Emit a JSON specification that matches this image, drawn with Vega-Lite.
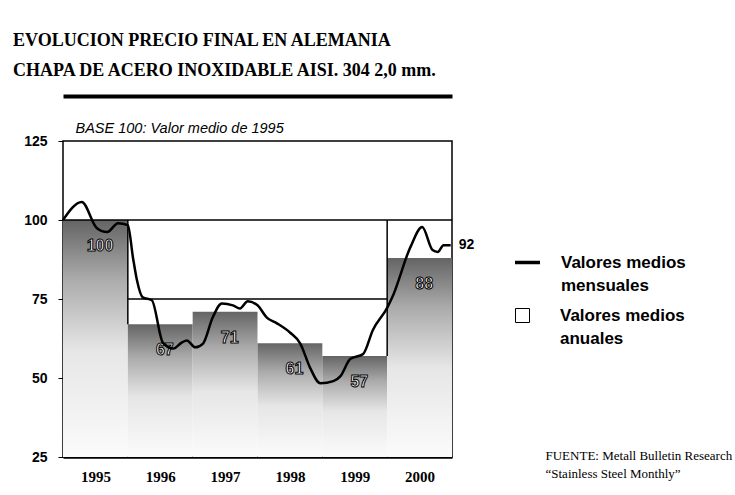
{
  "$schema": "https://vega.github.io/schema/vega-lite/v6.json",
  "width": 389,
  "height": 316,
  "autosize": {"type": "none"},
  "padding": {"left": 63, "top": 141, "right": 283, "bottom": 38},
  "background": "white",
  "config": {
    "view": {"stroke": "black", "strokeWidth": 1.5},
    "font": "Liberation Sans"
  },
  "title": {
    "text": ["EVOLUCION PRECIO FINAL EN ALEMANIA", "CHAPA DE ACERO INOXIDABLE AISI. 304 2,0 mm."],
    "anchor": "start",
    "frame": "group",
    "dx": -50,
    "offset": 16,
    "font": "Liberation Serif",
    "fontSize": 18,
    "fontWeight": "bold",
    "lineHeight": 30,
    "color": "black"
  },
  "datasets": {
    "bars": [
      {"year": 1995, "end": 1996, "v": 100},
      {"year": 1996, "end": 1997, "v": 67},
      {"year": 1997, "end": 1998, "v": 71},
      {"year": 1998, "end": 1999, "v": 61},
      {"year": 1999, "end": 2000, "v": 57},
      {"year": 2000, "end": 2001, "v": 88}
    ],
    "frame": [
      {"x": 1995, "x2": 2001, "y": 100, "y2": 100},
      {"x": 1996, "x2": 2000, "y": 75, "y2": 75},
      {"x": 1996, "x2": 1996, "y": 100, "y2": 67},
      {"x": 2000, "x2": 2000, "y": 100, "y2": 57}
    ],
    "monthly": [
      {"t": 1995.0, "v": 100},
      {"t": 1995.29, "v": 105.7},
      {"t": 1995.52, "v": 97.5},
      {"t": 1995.68, "v": 96.2},
      {"t": 1995.85, "v": 99},
      {"t": 1996.0, "v": 98.4},
      {"t": 1996.08, "v": 88},
      {"t": 1996.14, "v": 81},
      {"t": 1996.23, "v": 75.5},
      {"t": 1996.37, "v": 74.6},
      {"t": 1996.54, "v": 61.2},
      {"t": 1996.7, "v": 59.3},
      {"t": 1996.83, "v": 61.2},
      {"t": 1996.91, "v": 61.9},
      {"t": 1997.04, "v": 59.7},
      {"t": 1997.16, "v": 60.9},
      {"t": 1997.31, "v": 69.2},
      {"t": 1997.45, "v": 73.6},
      {"t": 1997.62, "v": 73},
      {"t": 1997.73, "v": 72},
      {"t": 1997.85, "v": 74.3},
      {"t": 1998.0, "v": 73},
      {"t": 1998.14, "v": 69.2},
      {"t": 1998.3, "v": 67.3},
      {"t": 1998.5, "v": 64.4},
      {"t": 1998.66, "v": 60.9},
      {"t": 1998.81, "v": 53.3},
      {"t": 1998.97, "v": 48.3},
      {"t": 1999.17, "v": 49},
      {"t": 1999.28, "v": 50.6},
      {"t": 1999.43, "v": 56},
      {"t": 1999.63, "v": 57.6},
      {"t": 1999.78, "v": 65.2},
      {"t": 2000.0, "v": 72.2},
      {"t": 2000.08, "v": 75.6},
      {"t": 2000.36, "v": 91.5},
      {"t": 2000.54, "v": 97.8},
      {"t": 2000.7, "v": 90.5},
      {"t": 2000.78, "v": 89.9},
      {"t": 2000.87, "v": 92},
      {"t": 2000.98, "v": 92}
    ],
    "endlabel": [{"t": 2000.98, "v": 92, "label": "92"}]
  },
  "layer": [
    {
      "data": {"name": "bars"},
      "mark": {
        "type": "bar",
        "stroke": null,
        "fill": {"gradient": "linear", "x1": 0, "y1": 0, "x2": 0, "y2": 1, "stops": [{"offset": 0, "color": "#646464"}, {"offset": 0.25, "color": "#ababab"}, {"offset": 0.55, "color": "#e6e6e6"}, {"offset": 1, "color": "#fbfbfb"}]}
      },
      "encoding": {
        "x": {
          "field": "year", "type": "quantitative",
          "scale": {"domain": [1995, 2001], "nice": false, "zero": false},
          "axis": {
            "orient": "bottom",
            "values": [1995.5, 1996.5, 1997.5, 1998.5, 1999.5, 2000.5],
            "labelExpr": "floor(datum.value)",
            "ticks": false,
            "grid": false,
            "domainColor": "black",
            "domainWidth": 2.5,
            "labelFont": "Liberation Serif",
            "labelFontSize": 15,
            "labelFontWeight": "bold",
            "labelColor": "black",
            "labelPadding": 12,
            "title": ["FUENTE: Metall Bulletin Research", "“Stainless Steel Monthly”"],
            "titleX": 482,
            "titleY": -2,
            "titleAlign": "left",
            "titleBaseline": "middle",
            "titleAngle": 0,
            "titleFont": "Liberation Serif",
            "titleFontSize": 13,
            "titleFontWeight": "normal",
            "titleLineHeight": 18,
            "titleColor": "black"
          }
        },
        "x2": {"field": "end"},
        "y": {
          "field": "v", "type": "quantitative",
          "scale": {"domain": [25, 125], "nice": false, "zero": false},
          "axis": {
            "values": [25, 50, 75, 100, 125],
            "grid": false,
            "domain": false,
            "tickColor": "black",
            "tickSize": 5,
            "labelPadding": 11,
            "labelFont": "Liberation Sans",
            "labelFontSize": 14,
            "labelFontWeight": "bold",
            "labelColor": "black",
            "title": "BASE 100: Valor medio de 1995",
            "titleAngle": 0,
            "titleX": 12,
            "titleY": -13,
            "titleAlign": "left",
            "titleBaseline": "middle",
            "titleFont": "Liberation Sans",
            "titleFontSize": 14.5,
            "titleFontStyle": "italic",
            "titleFontWeight": "normal",
            "titleColor": "black"
          }
        },
        "y2": {"datum": 25}
      }
    },
    {
      "data": {"name": "frame"},
      "mark": {"type": "rule", "color": "black", "strokeWidth": 1.5},
      "encoding": {
        "x": {
          "field": "x", "type": "quantitative",
          "axis": {"orient": "top", "labels": false, "ticks": false, "grid": false, "domainColor": "black", "domainWidth": 4, "offset": 45, "title": null}
        },
        "x2": {"field": "x2"},
        "y": {"field": "y", "type": "quantitative"},
        "y2": {"field": "y2"}
      }
    },
    {
      "data": {"name": "bars"},
      "mark": {"type": "text", "fontSize": 16, "fontWeight": "bold", "font": "Liberation Sans", "stroke": "black", "strokeWidth": 1, "align": "center", "baseline": "middle", "dx": 37, "dy": 26},
      "encoding": {
        "x": {"field": "year", "type": "quantitative", "axis": null},
        "y": {"field": "v", "type": "quantitative"},
        "text": {"field": "v", "type": "quantitative"},
        "fill": {
          "datum": "Valores medios|anuales",
          "scale": {"range": ["white"]},
          "legend": {
            "orient": "none",
            "legendX": 451,
            "legendY": 166,
            "title": null,
            "symbolType": "square",
            "symbolSize": 196,
            "symbolStrokeColor": "black",
            "symbolStrokeWidth": 1,
            "labelExpr": "split(datum.label, '|')",
            "labelFont": "Liberation Sans",
            "labelFontSize": 17,
            "labelFontWeight": "bold",
            "labelColor": "black",
            "labelOffset": 29,
            "encode": {
              "labels": {"update": {"lineHeight": {"value": 23}}}
            }
          }
        }
      }
    },
    {
      "data": {"name": "monthly"},
      "mark": {"type": "line", "interpolate": "monotone", "strokeWidth": 2.5},
      "encoding": {
        "x": {"field": "t", "type": "quantitative", "axis": null},
        "y": {"field": "v", "type": "quantitative"},
        "stroke": {
          "datum": "Valores medios|mensuales",
          "scale": {"range": ["black"]},
          "legend": {
            "orient": "none",
            "legendX": 450,
            "legendY": 107,
            "title": null,
            "symbolType": "stroke",
            "symbolSize": 625,
            "symbolStrokeWidth": 3.5,
            "labelExpr": "split(datum.label, '|')",
            "labelFont": "Liberation Sans",
            "labelFontSize": 17,
            "labelFontWeight": "bold",
            "labelColor": "black",
            "labelOffset": 19,
            "encode": {"labels": {"update": {"lineHeight": {"value": 23}}}}
          }
        }
      }
    },
    {
      "data": {"name": "endlabel"},
      "mark": {"type": "text", "align": "left", "baseline": "middle", "dx": 8, "fontSize": 14, "fontWeight": "bold", "font": "Liberation Sans", "color": "black"},
      "encoding": {
        "x": {"field": "t", "type": "quantitative", "axis": null},
        "y": {"field": "v", "type": "quantitative"},
        "text": {"field": "label"}
      }
    }
  ]
}
